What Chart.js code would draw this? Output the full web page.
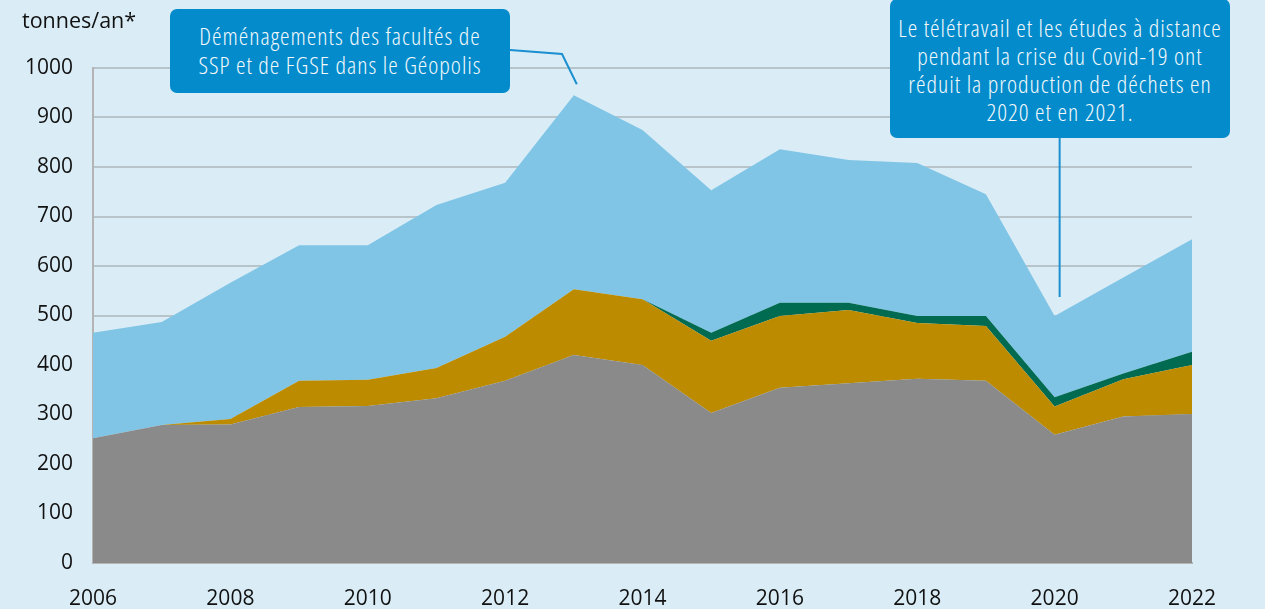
<!DOCTYPE html>
<html>
<head>
<meta charset="utf-8">
<script src="https://cdn.jsdelivr.net/npm/chart.js@4.4.1/dist/chart.umd.min.js"></script>
<style>
  body { margin: 0; background: #daedf6; }
  #wrap { position: relative; width: 1265px; height: 609px; overflow: hidden; }
  #chart { position: absolute; left: 0; top: 0; }
  .unit { position: absolute; left: 22px; top: 5px; font: 500 21.5px "Open Sans", sans-serif; color: #111; }
  .note { position: absolute; background: #038bcb; color: #f4f9fc; border-radius: 7px;
          font-family: "Open Sans", sans-serif; font-stretch: 75%; font-size: 24px; font-weight: 350;
          letter-spacing: 1px; text-align: center; box-sizing: border-box; white-space: nowrap; }
</style>
</head>
<body>
<div id="wrap">
  <canvas id="chart" width="1265" height="609"></canvas>
  <div class="unit">tonnes/an*</div>
  <div class="note" style="left:170px; top:9px; width:340px; height:84px; line-height:29px; padding-top:12px;">Déménagements des facultés de<br>SSP et de FGSE dans le Géopolis</div>
  <div class="note" style="left:890px; top:-1px; width:340px; height:139px; line-height:28px; padding-top:15px;">Le télétravail et les études à distance<br>pendant la crise du Covid-19 ont<br>réduit la production de déchets en<br>2020 et en 2021.</div>
</div>
<script>
var annees = ['2006','2007','2008','2009','2010','2011','2012','2013','2014','2015','2016','2017','2018','2019','2020','2021','2022'];
var gris  = [252, 279, 280, 315, 317, 333, 368, 420, 400, 303, 354, 363, 372, 368, 259, 296, 301];
var or    = [0, 0, 11, 53, 53, 61, 89, 133, 133, 146, 145, 148, 113, 111, 57, 75, 99];
var vert  = [0, 0, 0, 0, 0, 0, 0, 0, 0, 16, 27, 15, 14, 20, 19, 12, 27];
var bleu  = [213, 208, 275, 274, 272, 329, 311, 392, 342, 288, 310, 288, 309, 246, 164, 194, 227];
var graduations = [0, 100, 200, 300, 400, 500, 600, 700, 800, 900, 1000];

function total(i) { return gris[i] + or[i] + vert[i] + bleu[i]; }

// traits des bulles
var bulles = {
    id: 'bulles',
    afterDraw: function (chart) {
        var c = chart.ctx, x = chart.scales.x, y = chart.scales.y;
        c.save();
        c.strokeStyle = '#1b8fd0';
        c.lineWidth = 2;
        var i = annees.indexOf('2013');
        c.beginPath();
        c.moveTo(510, 50);
        c.lineTo(562, 54);
        c.lineTo(x.getPixelForValue(i) + 3, y.getPixelForValue(total(i)) - 11);
        c.stroke();
        var j = annees.indexOf('2020');
        c.beginPath();
        c.moveTo(x.getPixelForValue(j) + 5, 138);
        c.lineTo(x.getPixelForValue(j) + 5, y.getPixelForValue(total(j)) - 19);
        c.stroke();
        c.restore();
    }
};

var ctx = document.getElementById('chart').getContext('2d');
var graphique = new Chart(ctx, {
    type: 'line',
    data: {
        labels: annees,
        datasets: [
            { label: 'gris', data: gris, backgroundColor: '#8a8a8a', fill: 'origin' },
            { label: 'or', data: or, backgroundColor: '#bc8b00', fill: '-1' },
            { label: 'vert', data: vert, backgroundColor: '#006b50', fill: '-1' },
            { label: 'bleu', data: bleu, backgroundColor: '#80c5e6', fill: '-1' }
        ]
    },
    options: {
        responsive: false,
        animation: false,
        layout: { padding: { top: 68, right: 73, left: 0, bottom: 0 } },
        elements: {
            point: { radius: 0 },
            line: { borderWidth: 0, tension: 0 }
        },
        plugins: { legend: { display: false }, tooltip: { enabled: false } },
        scales: {
            x: {
                offset: false,
                grid: { display: false, drawTicks: false },
                border: { display: true, color: '#b4b4b4', width: 2 },
                ticks: {
                    autoSkip: false, maxRotation: 0, padding: 23, color: '#111',
                    font: { family: 'Open Sans', size: 21, weight: '500' },
                    callback: function (v, i) { return i % 2 === 0 ? annees[i] : ''; }
                },
                afterFit: function (s) { s.height = 46; }
            },
            y: {
                stacked: true,
                min: 0, max: 1000,
                z: 1,
                afterBuildTicks: function (s) { s.ticks = graduations.map(function (v) { return { value: v }; }); },
                grid: { color: 'rgba(90,90,90,0.27)', lineWidth: 2, drawTicks: false },
                border: { display: true, color: '#b4b4b4', width: 2 },
                ticks: {
                    padding: 20, color: '#111',
                    font: { family: 'Open Sans', size: 21, weight: '500' },
                    callback: function (v) { return String(v); }
                },
                afterFit: function (s) { s.width = 93; }
            }
        }
    },
    plugins: [bulles]
});
</script>
</body>
</html>
